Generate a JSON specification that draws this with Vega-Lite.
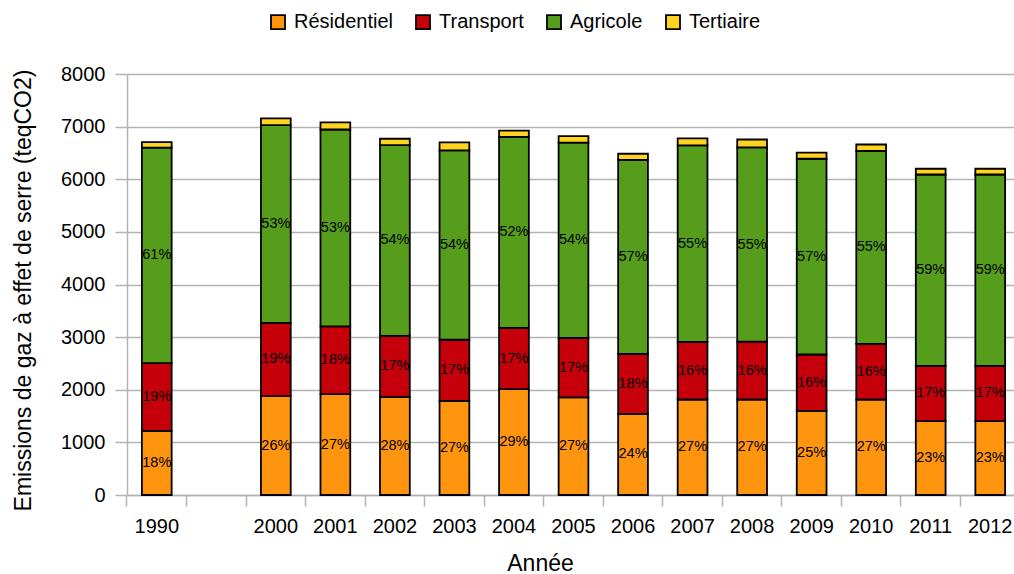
{
  "$schema": "https://vega.github.io/schema/vega-lite/v6.json",
  "width": 893,
  "height": 421,
  "autosize": {"type": "none"},
  "padding": {"left": 127, "top": 74, "right": -6, "bottom": 79},
  "background": "white",
  "config": {
    "font": "Liberation Sans",
    "view": {"stroke": null},
    "axis": {
      "labelColor": "black",
      "titleColor": "black",
      "titleFontWeight": "normal",
      "domainColor": "#b3b3b3",
      "domainWidth": 1.5,
      "tickColor": "#b3b3b3",
      "tickWidth": 1.5,
      "gridColor": "#b3b3b3",
      "gridWidth": 1.5
    }
  },
  "data": {
    "values": [
      {"annee": "1990", "secteur": "Résidentiel", "rang": 1, "valeur": 1220, "part": "18%"},
      {"annee": "1990", "secteur": "Transport", "rang": 2, "valeur": 1285, "part": "19%"},
      {"annee": "1990", "secteur": "Agricole", "rang": 3, "valeur": 4095, "part": "61%"},
      {"annee": "1990", "secteur": "Tertiaire", "rang": 4, "valeur": 105, "part": ""},
      {"annee": "2000", "secteur": "Résidentiel", "rang": 1, "valeur": 1880, "part": "26%"},
      {"annee": "2000", "secteur": "Transport", "rang": 2, "valeur": 1390, "part": "19%"},
      {"annee": "2000", "secteur": "Agricole", "rang": 3, "valeur": 3760, "part": "53%"},
      {"annee": "2000", "secteur": "Tertiaire", "rang": 4, "valeur": 125, "part": ""},
      {"annee": "2001", "secteur": "Résidentiel", "rang": 1, "valeur": 1915, "part": "27%"},
      {"annee": "2001", "secteur": "Transport", "rang": 2, "valeur": 1290, "part": "18%"},
      {"annee": "2001", "secteur": "Agricole", "rang": 3, "valeur": 3740, "part": "53%"},
      {"annee": "2001", "secteur": "Tertiaire", "rang": 4, "valeur": 135, "part": ""},
      {"annee": "2002", "secteur": "Résidentiel", "rang": 1, "valeur": 1865, "part": "28%"},
      {"annee": "2002", "secteur": "Transport", "rang": 2, "valeur": 1160, "part": "17%"},
      {"annee": "2002", "secteur": "Agricole", "rang": 3, "valeur": 3625, "part": "54%"},
      {"annee": "2002", "secteur": "Tertiaire", "rang": 4, "valeur": 120, "part": ""},
      {"annee": "2003", "secteur": "Résidentiel", "rang": 1, "valeur": 1790, "part": "27%"},
      {"annee": "2003", "secteur": "Transport", "rang": 2, "valeur": 1160, "part": "17%"},
      {"annee": "2003", "secteur": "Agricole", "rang": 3, "valeur": 3600, "part": "54%"},
      {"annee": "2003", "secteur": "Tertiaire", "rang": 4, "valeur": 150, "part": ""},
      {"annee": "2004", "secteur": "Résidentiel", "rang": 1, "valeur": 2010, "part": "29%"},
      {"annee": "2004", "secteur": "Transport", "rang": 2, "valeur": 1165, "part": "17%"},
      {"annee": "2004", "secteur": "Agricole", "rang": 3, "valeur": 3630, "part": "52%"},
      {"annee": "2004", "secteur": "Tertiaire", "rang": 4, "valeur": 120, "part": ""},
      {"annee": "2005", "secteur": "Résidentiel", "rang": 1, "valeur": 1855, "part": "27%"},
      {"annee": "2005", "secteur": "Transport", "rang": 2, "valeur": 1130, "part": "17%"},
      {"annee": "2005", "secteur": "Agricole", "rang": 3, "valeur": 3710, "part": "54%"},
      {"annee": "2005", "secteur": "Tertiaire", "rang": 4, "valeur": 125, "part": ""},
      {"annee": "2006", "secteur": "Résidentiel", "rang": 1, "valeur": 1540, "part": "24%"},
      {"annee": "2006", "secteur": "Transport", "rang": 2, "valeur": 1140, "part": "18%"},
      {"annee": "2006", "secteur": "Agricole", "rang": 3, "valeur": 3690, "part": "57%"},
      {"annee": "2006", "secteur": "Tertiaire", "rang": 4, "valeur": 115, "part": ""},
      {"annee": "2007", "secteur": "Résidentiel", "rang": 1, "valeur": 1815, "part": "27%"},
      {"annee": "2007", "secteur": "Transport", "rang": 2, "valeur": 1095, "part": "16%"},
      {"annee": "2007", "secteur": "Agricole", "rang": 3, "valeur": 3735, "part": "55%"},
      {"annee": "2007", "secteur": "Tertiaire", "rang": 4, "valeur": 130, "part": ""},
      {"annee": "2008", "secteur": "Résidentiel", "rang": 1, "valeur": 1815, "part": "27%"},
      {"annee": "2008", "secteur": "Transport", "rang": 2, "valeur": 1100, "part": "16%"},
      {"annee": "2008", "secteur": "Agricole", "rang": 3, "valeur": 3690, "part": "55%"},
      {"annee": "2008", "secteur": "Tertiaire", "rang": 4, "valeur": 150, "part": ""},
      {"annee": "2009", "secteur": "Résidentiel", "rang": 1, "valeur": 1600, "part": "25%"},
      {"annee": "2009", "secteur": "Transport", "rang": 2, "valeur": 1070, "part": "16%"},
      {"annee": "2009", "secteur": "Agricole", "rang": 3, "valeur": 3720, "part": "57%"},
      {"annee": "2009", "secteur": "Tertiaire", "rang": 4, "valeur": 115, "part": ""},
      {"annee": "2010", "secteur": "Résidentiel", "rang": 1, "valeur": 1815, "part": "27%"},
      {"annee": "2010", "secteur": "Transport", "rang": 2, "valeur": 1055, "part": "16%"},
      {"annee": "2010", "secteur": "Agricole", "rang": 3, "valeur": 3670, "part": "55%"},
      {"annee": "2010", "secteur": "Tertiaire", "rang": 4, "valeur": 120, "part": ""},
      {"annee": "2011", "secteur": "Résidentiel", "rang": 1, "valeur": 1405, "part": "23%"},
      {"annee": "2011", "secteur": "Transport", "rang": 2, "valeur": 1050, "part": "17%"},
      {"annee": "2011", "secteur": "Agricole", "rang": 3, "valeur": 3635, "part": "59%"},
      {"annee": "2011", "secteur": "Tertiaire", "rang": 4, "valeur": 110, "part": ""},
      {"annee": "2012", "secteur": "Résidentiel", "rang": 1, "valeur": 1405, "part": "23%"},
      {"annee": "2012", "secteur": "Transport", "rang": 2, "valeur": 1050, "part": "17%"},
      {"annee": "2012", "secteur": "Agricole", "rang": 3, "valeur": 3635, "part": "59%"},
      {"annee": "2012", "secteur": "Tertiaire", "rang": 4, "valeur": 110, "part": ""}
    ]
  },
  "encoding": {
    "x": {
      "field": "annee",
      "type": "nominal",
      "scale": {
        "domain": ["1990", " ", "2000", "2001", "2002", "2003", "2004", "2005", "2006", "2007", "2008", "2009", "2010", "2011", "2012"],
        "paddingInner": 0.5,
        "paddingOuter": 0.25
      },
      "axis": {
        "labelAngle": 0,
        "labelFontSize": 20,
        "labelBaseline": "alphabetic",
        "labelPadding": 26,
        "tickSize": 11,
        "bandPosition": -0.5,
        "title": "Année",
        "titleFontSize": 23,
        "titleX": 413,
        "titleY": 75,
        "titleAlign": "center",
        "titleBaseline": "alphabetic"
      }
    },
    "y": {
      "field": "valeur",
      "type": "quantitative",
      "stack": "zero",
      "scale": {"domain": [0, 8000], "nice": false},
      "axis": {
        "values": [0, 1000, 2000, 3000, 4000, 5000, 6000, 7000, 8000],
        "format": "d",
        "grid": true,
        "labelFontSize": 20,
        "tickSize": 12,
        "labelPadding": 10,
        "title": "Emissions de gaz à effet de serre (teqCO2)",
        "titleFontSize": 23,
        "titleX": -97,
        "titleY": 216,
        "titleAngle": -90,
        "titleAlign": "center",
        "titleBaseline": "alphabetic"
      }
    },
    "order": {"field": "rang", "type": "quantitative"}
  },
  "layer": [
    {
      "mark": {"type": "bar", "stroke": "black", "strokeWidth": 1.8},
      "encoding": {
        "color": {
          "field": "secteur",
          "type": "nominal",
          "scale": {
            "domain": ["Résidentiel", "Transport", "Agricole", "Tertiaire"],
            "range": ["#ff950e", "#c5000b", "#579d1c", "#ffd320"]
          },
          "legend": {
            "title": null,
            "orient": "none",
            "direction": "horizontal",
            "legendX": 141,
            "legendY": -62,
            "symbolType": "square",
            "symbolSize": 196,
            "symbolStrokeColor": "black",
            "symbolStrokeWidth": 1.8,
            "symbolOpacity": 1,
            "labelFontSize": 20,
            "labelColor": "black",
            "labelOffset": 6,
            "columnPadding": 19
          }
        }
      }
    },
    {
      "mark": {"type": "text", "fontSize": 14.5, "color": "black", "baseline": "middle", "align": "center"},
      "encoding": {
        "y": {"field": "valeur", "type": "quantitative", "stack": "zero", "bandPosition": 0.5},
        "text": {"field": "part", "type": "nominal"}
      }
    }
  ]
}
